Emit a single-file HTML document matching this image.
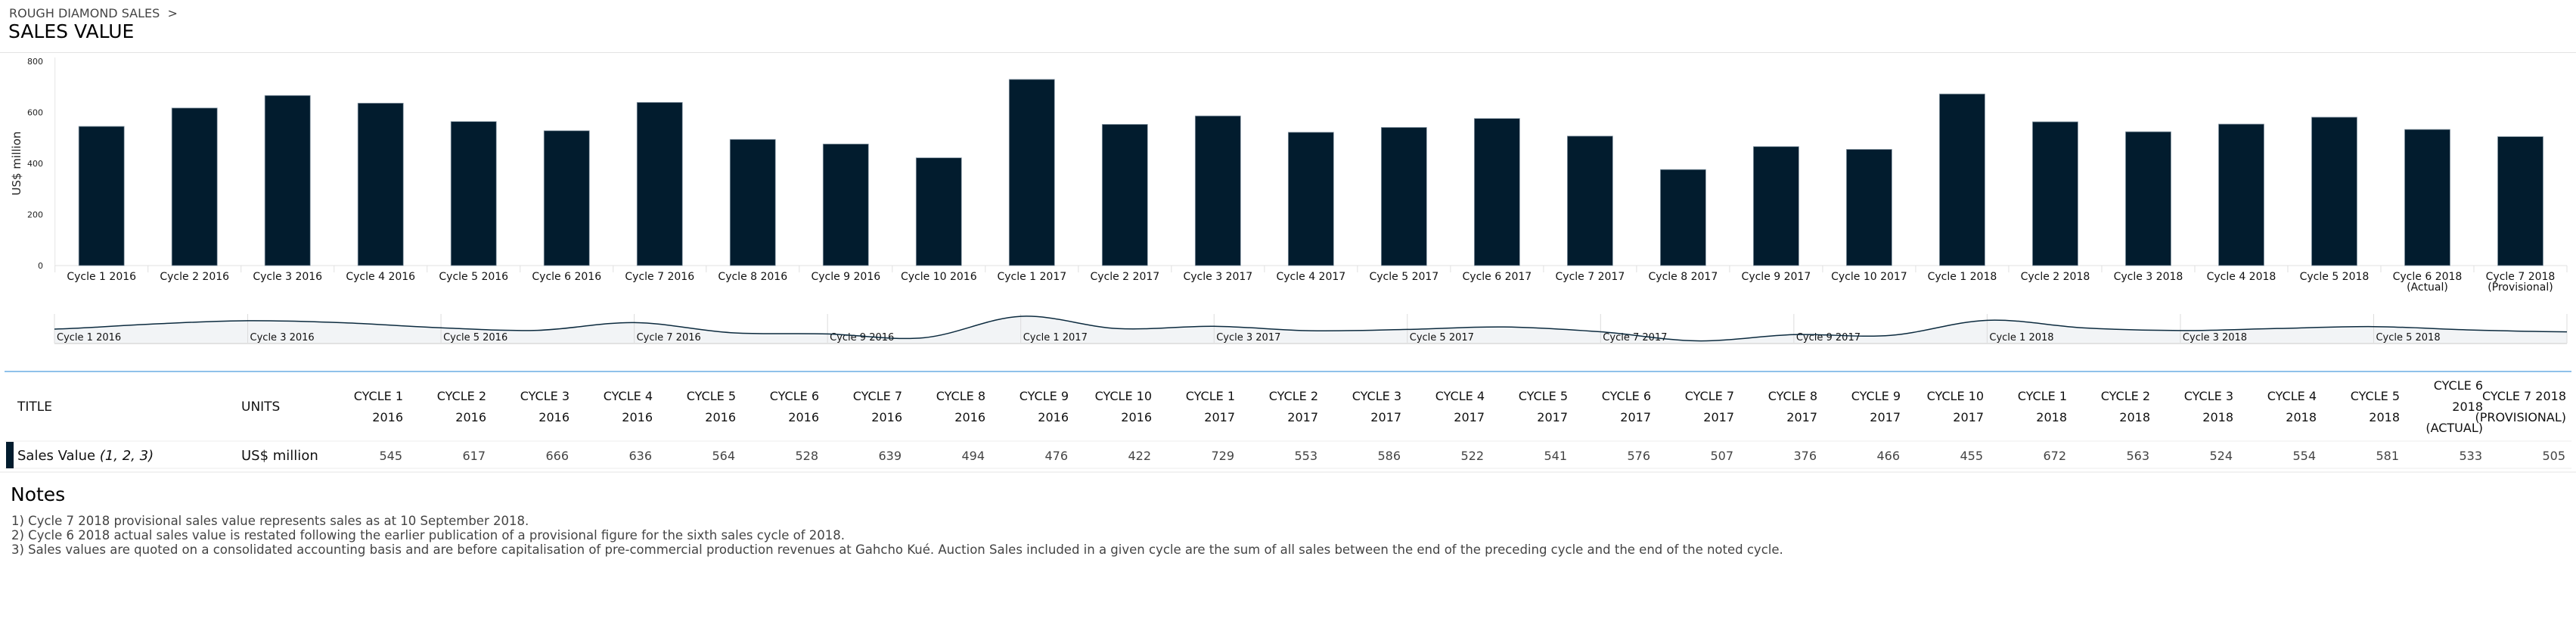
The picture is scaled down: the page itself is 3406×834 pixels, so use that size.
<!DOCTYPE html>
<html><head><meta charset="utf-8">
<style>
html,body{margin:0;padding:0;background:#fff;}
body{width:3406px;height:834px;overflow:hidden;position:relative;font-family:"DejaVu Sans","Liberation Sans",sans-serif;}
.abs{position:absolute;white-space:nowrap;}
</style></head>
<body>
<div class="abs" style="left:12px;top:8px;font-size:16px;color:#444;">ROUGH DIAMOND SALES &nbsp;&gt;</div>
<div class="abs" style="left:11px;top:27px;font-size:25px;color:#000;">SALES VALUE</div>
<div class="abs" style="left:0;top:69px;width:3406px;height:1px;background:#e3e3e3;"></div>
<svg id="chart" width="3406" height="834" style="position:absolute;left:0;top:0;" xmlns="http://www.w3.org/2000/svg"></svg>
<script>
const categories=["Cycle 1 2016","Cycle 2 2016","Cycle 3 2016","Cycle 4 2016","Cycle 5 2016","Cycle 6 2016","Cycle 7 2016","Cycle 8 2016","Cycle 9 2016","Cycle 10 2016","Cycle 1 2017","Cycle 2 2017","Cycle 3 2017","Cycle 4 2017","Cycle 5 2017","Cycle 6 2017","Cycle 7 2017","Cycle 8 2017","Cycle 9 2017","Cycle 10 2017","Cycle 1 2018","Cycle 2 2018","Cycle 3 2018","Cycle 4 2018","Cycle 5 2018","Cycle 6 2018|(Actual)","Cycle 7 2018|(Provisional)"];
const salesValues=[545,617,666,636,564,528,639,494,476,422,729,553,586,522,541,576,507,376,466,455,672,563,524,554,581,533,505];
const yTicks=[0,200,400,600,800];
const headers=["CYCLE 1|2016","CYCLE 2|2016","CYCLE 3|2016","CYCLE 4|2016","CYCLE 5|2016","CYCLE 6|2016","CYCLE 7|2016","CYCLE 8|2016","CYCLE 9|2016","CYCLE 10|2016","CYCLE 1|2017","CYCLE 2|2017","CYCLE 3|2017","CYCLE 4|2017","CYCLE 5|2017","CYCLE 6|2017","CYCLE 7|2017","CYCLE 8|2017","CYCLE 9|2017","CYCLE 10|2017","CYCLE 1|2018","CYCLE 2|2018","CYCLE 3|2018","CYCLE 4|2018","CYCLE 5|2018","CYCLE 6|2018|(ACTUAL)","CYCLE 7 2018|(PROVISIONAL)"];

const NS="http://www.w3.org/2000/svg";
const svg=document.getElementById('chart');
function mk(tag,attrs,parent){const e=document.createElementNS(NS,tag);for(const k in attrs)e.setAttribute(k,attrs[k]);(parent||svg).appendChild(e);return e;}
const X0=72.7,X1=3394,Y0=351,Y1=81,YMAX=800;
const band=(X1-X0)/categories.length;
const xBand=i=>X0+i*band;
const yScale=v=>Y0-(v/YMAX)*(Y0-Y1);

let a=mk('line',{x1:X0,y1:Y1-5,x2:X0,y2:Y0,stroke:'#e6e6e6','stroke-width':1});

a=mk('line',{x1:X0,y1:Y0,x2:X1,y2:Y0,stroke:'#e0e0e0','stroke-width':1});

yTicks.forEach(t=>{const tx=mk('text',{x:57,y:yScale(t)+4,'text-anchor':'end','font-size':11,fill:'#222'});tx.textContent=t;
});
const yt=mk('text',{x:0,y:0,transform:'translate(27,216) rotate(-90)','text-anchor':'middle','font-size':15,fill:'#222'});yt.textContent='US$ million';


categories.forEach((c,i)=>{
  const tk=mk('line',{x1:xBand(i),y1:Y0,x2:xBand(i),y2:Y0+9,stroke:'#e0e0e0'});
  
  const cx=xBand(i)+band/2, v=salesValues[i];
  const r=mk('rect',{x:cx-30,y:yScale(v),width:60,height:Y0-yScale(v),fill:'#021c2e',stroke:'#8797a4','stroke-width':0.8});
  
  c.split('|').forEach((ln,k)=>{const t=mk('text',{x:cx,y:370+k*14,'text-anchor':'middle','font-size':14,fill:'#111'});t.textContent=ln;
  });
});
const lt=mk('line',{x1:X1,y1:Y0,x2:X1,y2:Y0+9,stroke:'#e0e0e0'});


const NX0=72,NX1=3394,NT=415,NB=454;
const nstep=(NX1-NX0)/(salesValues.length-1);
const nx=i=>NX0+i*nstep;
const ny=v=>435-(v-545)*0.092;
const nbg=mk('rect',{x:NX0,y:NT,width:NX1-NX0,height:NB-NT,fill:'#fff'});

let d='M'+nx(0)+','+ny(salesValues[0]);
for(let i=0;i<salesValues.length-1;i++){
  const p0=i>0?salesValues[i-1]:salesValues[i],p1=salesValues[i],p2=salesValues[i+1],p3=i+2<salesValues.length?salesValues[i+2]:p2;
  const x1=nx(i),x2=nx(i+1);
  const c1y=ny(p1)+(ny(p2)-ny(p0))/6,c2y=ny(p2)-(ny(p3)-ny(p1))/6;
  d+=' C'+(x1+nstep/3)+','+c1y+' '+(x2-nstep/3)+','+c2y+' '+x2+','+ny(p2);
}
const area=mk('path',{d:d+' L'+NX1+','+NB+' L'+NX0+','+NB+' Z',fill:'#f2f4f6'});

for(let i=0;i<salesValues.length;i+=2){
  const g=mk('line',{x1:nx(i),y1:NT,x2:nx(i),y2:NB,stroke:'#dcdcdc'});
  
  if(i<salesValues.length-1){const t=mk('text',{x:nx(i)+3,y:450,'font-size':13,fill:'#111'});t.textContent=categories[i].split('|')[0];
  }
}
const nline=mk('path',{d:d,fill:'none',stroke:'#0b2a3e','stroke-width':1.5});

const nbl=mk('line',{x1:NX0,y1:NB,x2:NX1,y2:NB,stroke:'#e2e2e2','stroke-width':2});


const tl=mk('rect',{x:6,y:490,width:3394,height:2,fill:'#8fc1ea'});

let t=mk('text',{x:23,y:543,'font-size':17,fill:'#111'});t.textContent='TITLE';

t=mk('text',{x:319,y:543,'font-size':17,fill:'#111'});t.textContent='UNITS';

const colRight=i=>533+i*110;
headers.forEach((h,i)=>{
  const lines=h.split('|');const start=lines.length===3?515:529;const lh=28;
  lines.forEach((ln,k)=>{const e=mk('text',{x:colRight(i),y:start+k*lh,'text-anchor':'end','font-size':16,fill:'#111'});e.textContent=ln;
  });
  const v=mk('text',{x:colRight(i)-1,y:608,'text-anchor':'end','font-size':16,fill:'#444'});v.textContent=salesValues[i];
  
});
let l=mk('line',{x1:6,y1:583,x2:3400,y2:583,stroke:'#ececec'});
l=mk('line',{x1:6,y1:619,x2:3400,y2:619,stroke:'#ececec'});
l=mk('line',{x1:0,y1:624,x2:3406,y2:624,stroke:'#e6e6e6'});
const mkr=mk('rect',{x:8,y:584,width:10,height:35,fill:'#021c2e'});

t=mk('text',{x:23,y:608,'font-size':18,fill:'#111'});t.innerHTML='Sales Value <tspan font-style="italic">(1, 2, 3)</tspan>';

t=mk('text',{x:319,y:608,'font-size':18,fill:'#111'});t.textContent='US$ million';

</script>
<div class="abs" style="left:14px;top:639px;font-size:25px;color:#000;">Notes</div>
<div class="abs" style="left:15px;top:679px;font-size:16.5px;line-height:19px;color:#444;">
<div>1) Cycle 7 2018 provisional sales value represents sales as at 10 September 2018.</div>
<div>2) Cycle 6 2018 actual sales value is restated following the earlier publication of a provisional figure for the sixth sales cycle of 2018.</div>
<div>3) Sales values are quoted on a consolidated accounting basis and are before capitalisation of pre-commercial production revenues at Gahcho Kué. Auction Sales included in a given cycle are the sum of all sales between the end of the preceding cycle and the end of the noted cycle.</div>
</div>
</body></html>
